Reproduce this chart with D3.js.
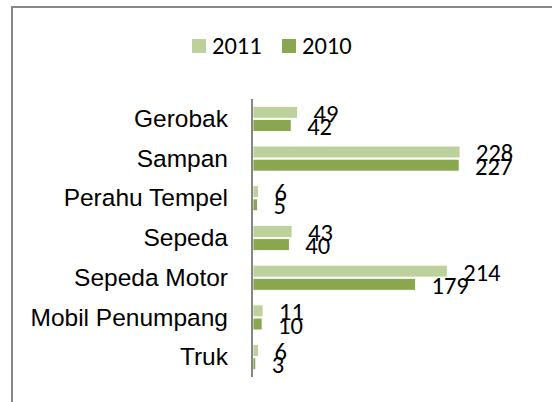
<!DOCTYPE html>
<html>
<head>
<meta charset="utf-8">
<script src="https://cdn.jsdelivr.net/npm/d3@7/dist/d3.min.js"></script>
<style>
  html, body { margin: 0; padding: 0; background: #fff; }
  svg { display: block; font-family: Carlito, Lato, "Open Sans", sans-serif; }
</style>
</head>
<body>
<div id="chart"></div>
<script>
// data, top to bottom
const categories = ["Gerobak", "Sampan", "Perahu Tempel", "Sepeda", "Sepeda Motor", "Mobil Penumpang", "Truk"];
const seriesNames = ["2011", "2010"];
const values2011 = [49, 228, 6, 43, 214, 11, 6];
const values2010 = [42, 227, 5, 40, 179, 10, 3];
const seriesColors = ["#bcd19b", "#8aa64e"];

const W = 552, H = 402, FS = 24.5;
const svg = d3.select("#chart").append("svg").attr("width", W).attr("height", H);

// chart frame (right and bottom edges fall outside the picture)
svg.append("rect")
  .attr("x", 12).attr("y", 7).attr("width", 600).attr("height", 500)
  .attr("fill", "#fff").attr("stroke", "#888").attr("stroke-width", 2);

const plot = { left: 253, top: 99, bottom: 377 };
const x = d3.scaleLinear().domain([0, 228]).range([plot.left, 460]);
const y = d3.scaleBand().domain(categories).range([plot.top, plot.bottom])
  .paddingInner(0.37).paddingOuter(0.185);
const ySub = d3.scaleBand().domain(seriesNames).range([0, y.bandwidth()]).paddingInner(0.1);

const rows = categories.map((c, i) => ({ c, vals: [values2011[i], values2010[i]] }));

const groups = svg.append("g").selectAll("g").data(rows).join("g")
  .attr("transform", (d) => `translate(0,${y(d.c)})`);

groups.selectAll("rect").data((d) => d.vals.map((v, k) => ({ v, k })))
  .join("rect")
  .attr("x", x(0))
  .attr("y", (d) => ySub(seriesNames[d.k]))
  .attr("width", (d) => x(d.v) - x(0))
  .attr("height", ySub.bandwidth())
  .attr("fill", (d) => seriesColors[d.k])
  .attr("stroke", "#fff").attr("stroke-width", 0.8);

// value labels, right of each bar end (they overlap in the original too)
groups.selectAll("text").data((d) => d.vals.map((v, k) => ({ v, k })))
  .join("text")
  .attr("x", (d) => x(d.v) + 16)
  .attr("y", (d) => ySub(seriesNames[d.k]) + ySub.bandwidth() / 2 + 9.5)
  .attr("font-size", FS).attr("fill", "#000")
  .text((d) => d.v);

// category axis
const axis = svg.append("g").attr("transform", `translate(${plot.left - 1},0)`)
  .call(d3.axisLeft(y).tickSize(0).tickPadding(24));
axis.select(".domain").attr("stroke", "#868686").attr("stroke-width", 2)
  .attr("d", `M0,${plot.top}V${plot.bottom}`);
axis.selectAll(".tick text")
  .attr("font-size", FS).attr("font-family", null).attr("fill", "#000")
  .attr("dy", "0.33em");

// legend
const legend = svg.append("g");
const legendX = [192, 282];
seriesNames.forEach((s, k) => {
  legend.append("rect").attr("x", legendX[k]).attr("y", 39).attr("width", 14).attr("height", 14)
    .attr("fill", seriesColors[k]);
  legend.append("text").attr("x", legendX[k] + 20).attr("y", 54)
    .attr("font-size", FS).attr("fill", "#000").text(s);
});
</script>
</body>
</html>
